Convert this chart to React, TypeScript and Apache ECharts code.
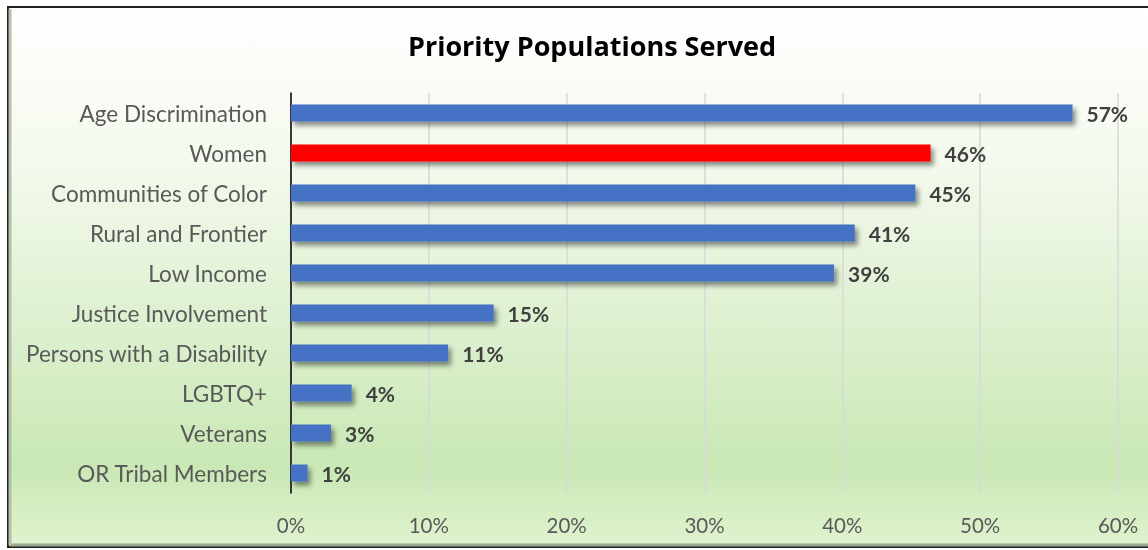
import React, { useEffect, useRef } from "react";
import * as echarts from "echarts";

const categories = [
  "Age Discrimination",
  "Women",
  "Communities of Color",
  "Rural and Frontier",
  "Low Income",
  "Justice Involvement",
  "Persons with a Disability",
  "LGBTQ+",
  "Veterans",
  "OR Tribal Members",
];
const values = [56.7, 46.4, 45.3, 40.9, 39.4, 14.7, 11.4, 4.4, 2.9, 1.2];
const barColors = ["#4472C4", "#FF0000", "#4472C4", "#4472C4", "#4472C4", "#4472C4", "#4472C4", "#4472C4", "#4472C4", "#4472C4"];
const xTicks = [0, 10, 20, 30, 40, 50, 60];

const FONT = "Lato, 'Open Sans', sans-serif";

export default function App() {
  const ref = useRef<HTMLDivElement>(null);
  useEffect(() => {
    if (!ref.current) return;
    const chart = echarts.init(ref.current, undefined, { renderer: "svg" });
    const cats = [...categories].reverse();
    const vals = [...values].reverse();
    const cols = [...barColors].reverse();
    chart.setOption({
      animation: false,
      graphic: [
        {
          type: "rect",
          z: -10,
          silent: true,
          shape: { x: 8, y: 7, width: 1150, height: 540 },
          style: {
            fill: new echarts.graphic.LinearGradient(0, 0, 0, 1, [
              { offset: 0, color: "#ffffff" },
              { offset: 0.3, color: "#f3f9ec" },
              { offset: 0.85, color: "#c9e8b5" },
              { offset: 1, color: "#e0f3cf" },
            ]),
            stroke: "#222",
            lineWidth: 2,
          },
        },
        {
          type: "line",
          z: -9,
          silent: true,
          shape: { x1: 10, y1: 545, x2: 1148, y2: 545 },
          style: { stroke: "#9aa890", lineWidth: 3 },
        },
        {
          type: "line",
          z: -9,
          silent: true,
          shape: { x1: 10, y1: 9, x2: 10, y2: 545 },
          style: { stroke: "#b5c0aa", lineWidth: 3 },
        },
      ],
      title: {
        text: "Priority Populations Served",
        left: 587,
        textAlign: "center",
        top: 27,
        textStyle: { fontFamily: "'Open Sans', sans-serif", fontWeight: "bold", fontSize: 27, color: "#000" },
      },
      grid: { left: 291, right: 30, top: 93, bottom: 57, containLabel: false },
      xAxis: {
        type: "value",
        min: xTicks[0],
        max: xTicks[xTicks.length - 1],
        interval: 10,
        axisLine: { show: false },
        axisTick: { show: false },
        splitLine: { lineStyle: { color: "#d9d9d9", width: 1.5 } },
        axisLabel: {
          formatter: (v: number) => v + "%",
          fontFamily: FONT,
          fontSize: 20.5,
          color: "#595959",
          margin: 21,
        },
      },
      yAxis: {
        type: "category",
        data: cats,
        axisLine: { show: true, lineStyle: { color: "#000", width: 1.5 } },
        axisTick: { show: false },
        axisLabel: { fontFamily: FONT, fontSize: 22.5, color: "#595959", margin: 24 },
      },
      series: [
        {
          type: "bar",
          data: vals.map((v, i) => ({ value: v, itemStyle: { color: cols[i] } })),
          barWidth: 17,
          itemStyle: {
            shadowBlur: 5,
            shadowOffsetX: 3,
            shadowOffsetY: 4,
            shadowColor: "rgba(0,0,0,0.45)",
          },
          label: {
            show: true,
            position: "right",
            distance: 14,
            formatter: (p: any) => Math.round(p.value) + "%",
            fontFamily: FONT,
            fontWeight: "bold",
            fontSize: 21,
            color: "#404040",
          },
        },
      ],
    });
    return () => chart.dispose();
  }, []);
  return (
    <div
      ref={ref}
      style={{ position: "fixed", left: 0, top: 0, width: 1148, height: 550 }}
    />
  );
}
